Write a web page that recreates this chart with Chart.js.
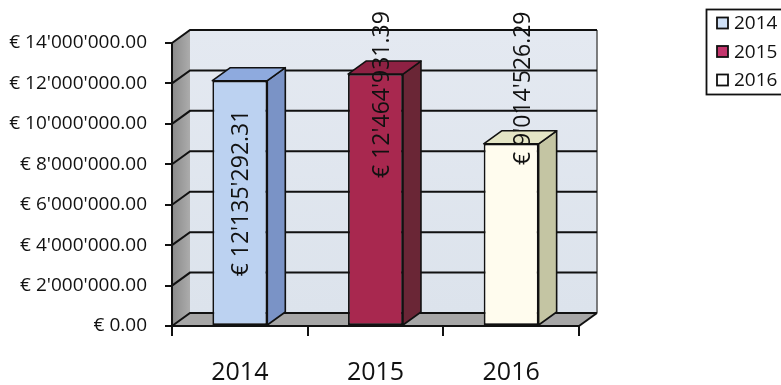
<!DOCTYPE html>
<html>
<head>
<meta charset="utf-8">
<script src="https://cdn.jsdelivr.net/npm/chart.js@4.4.1/dist/chart.umd.min.js"></script>
<style>
  html, body { margin: 0; padding: 0; background: #fff; }
  canvas { display: block; }
</style>
</head>
<body>
<canvas id="chart" width="781" height="385"></canvas>
<script>
const years = ['2014', '2015', '2016'];
const totals = [12135292.31, 12464931.39, 9014526.29];
const yMin = 0;
const yMax = 14000000;
const yStep = 2000000;

const frontColors = ['#bcd2f1', '#a8284f', '#fffcee'];
const topColors = ['#8eaade', '#8e2143', '#e4e5c5'];
const sideColors = ['#7a93c6', '#6a2636', '#c4c5a3'];
const legendColors = ['#cfe0f6', '#c2356c', '#ffffff'];

const FONT = '"Open Sans", "DejaVu Sans", sans-serif';
const INK = '#111111';

// 1234567.8 -> € 1'234'567.80
function money(v) {
  const parts = Number(v).toFixed(2).split('.');
  return '€ ' + parts[0].replace(/\B(?=(\d{3})+(?!\d))/g, "'") + '.' + parts[1];
}

function poly(ctx, pts, fill, stroke) {
  ctx.beginPath();
  pts.forEach(([px, py], i) => (i ? ctx.lineTo(px, py) : ctx.moveTo(px, py)));
  ctx.closePath();
  if (fill) { ctx.fillStyle = fill; ctx.fill(); }
  if (stroke) { ctx.strokeStyle = stroke; ctx.stroke(); }
}

// fake 3d: walls + floor behind the bars, side/top faces on the bars
const box3d = {
  id: 'box3d',
  beforeDraw(chart, args, opts) {
    const { ctx, chartArea } = chart;
    const { left, right, top, bottom } = chartArea;
    const dx = opts.dx, dy = opts.dy;
    const yScale = chart.scales.y;
    ctx.save();

    // back wall
    const wall = ctx.createLinearGradient(0, top - dy, 0, bottom - dy);
    wall.addColorStop(0, '#e4e9f1');
    wall.addColorStop(1, '#dce3ec');
    ctx.fillStyle = wall;
    ctx.fillRect(left + dx, top - dy, right - left, bottom - top);

    // left side wall
    const side = ctx.createLinearGradient(left, 0, left + dx, 0);
    side.addColorStop(0, '#8a8a8a');
    side.addColorStop(1, '#acacac');
    poly(ctx, [[left, top], [left + dx, top - dy], [left + dx, bottom - dy], [left, bottom]], side);

    // floor
    poly(ctx, [[left, bottom], [left + dx, bottom - dy], [right + dx, bottom - dy], [right, bottom]], '#a6a6a6');

    // back wall right edge
    ctx.lineWidth = 1.5;
    ctx.strokeStyle = '#555';
    ctx.beginPath();
    ctx.moveTo(right + dx, top - dy);
    ctx.lineTo(right + dx, bottom - dy);
    ctx.stroke();

    // grid lines bent over the side wall
    ctx.strokeStyle = INK;
    ctx.lineWidth = 2;
    yScale.ticks.forEach(t => {
      const py = yScale.getPixelForValue(t.value);
      ctx.beginPath();
      ctx.moveTo(left, py);
      ctx.lineTo(left + dx, py - dy);
      ctx.lineTo(right + dx, py - dy);
      ctx.stroke();
    });

    // floor front-right edge
    ctx.beginPath();
    ctx.moveTo(right, bottom);
    ctx.lineTo(right + dx, bottom - dy);
    ctx.stroke();
    ctx.restore();
  },
  afterDatasetsDraw(chart, args, opts) {
    const { ctx } = chart;
    const dx = opts.dx, dy = opts.dy;
    const meta = chart.getDatasetMeta(0);
    const yScale = chart.scales.y;
    ctx.save();
    ctx.lineWidth = 1.6;
    ctx.lineJoin = 'round';
    meta.data.forEach((bar, i) => {
      const { x, y, base, width } = bar.getProps(['x', 'y', 'base', 'width'], true);
      const l = x - width / 2, r = x + width / 2;
      poly(ctx, [[r, y], [r + dx, y - dy], [r + dx, base - dy], [r, base]], sideColors[i], INK);
      poly(ctx, [[l, y], [l + dx, y - dy], [r + dx, y - dy], [r, y]], topColors[i], INK);
    });

    // value labels, rotated
    ctx.font = '23px ' + FONT;
    ctx.fillStyle = INK;
    ctx.textAlign = 'center';
    ctx.textBaseline = 'middle';
    meta.data.forEach((bar, i) => {
      const a = opts.labels[i];
      ctx.save();
      ctx.translate(bar.x + a.shift, yScale.getPixelForValue(a.at));
      ctx.rotate(-Math.PI / 2);
      ctx.fillText(money(totals[i]), 0, 1);
      ctx.restore();
    });
    ctx.restore();
  },
  afterDraw(chart, args, opts) {
    // boxed legend, top right, running off the edge
    const { ctx } = chart;
    const lg = opts.legend;
    ctx.save();
    ctx.lineWidth = 1.8;
    ctx.strokeStyle = INK;
    ctx.strokeRect(lg.x + 0.5, lg.y + 0.5, 120, lg.h);
    ctx.font = '19px ' + FONT;
    ctx.textBaseline = 'middle';
    ctx.textAlign = 'left';
    years.forEach((yr, i) => {
      const cy = lg.y + lg.first + i * lg.row;
      ctx.lineWidth = 1.8;
      ctx.fillStyle = legendColors[i];
      ctx.fillRect(lg.x + 11, cy - 5.5, 11, 11);
      ctx.strokeRect(lg.x + 11, cy - 5.5, 11, 11);
      ctx.fillStyle = INK;
      ctx.fillText(yr, lg.x + 28, cy + 1);
    });
    ctx.restore();
  }
};

new Chart(document.getElementById('chart'), {
  type: 'bar',
  data: {
    labels: years,
    datasets: [{
      data: totals,
      backgroundColor: frontColors,
      borderColor: INK,
      borderWidth: 1.8,
      borderSkipped: false,
      barPercentage: 0.405,
      categoryPercentage: 1
    }]
  },
  options: {
    responsive: false,
    devicePixelRatio: 1,
    animation: false,
    layout: { padding: { top: 43, right: 202, bottom: 0, left: 0 } },
    plugins: {
      legend: { display: false },
      tooltip: { enabled: false },
      box3d: {
        dx: 18,
        dy: 13,
        labels: [
          { at: 6580000, shift: 1 },
          { at: 11450000, shift: 6 },
          { at: 11760000, shift: 11 }
        ],
        legend: { x: 706, y: 9, h: 85, first: 14, row: 28.5 }
      }
    },
    scales: {
      x: {
        grid: { offset: true, drawOnChartArea: false, tickLength: 10, color: INK, lineWidth: 2 },
        border: { color: INK, width: 2 },
        ticks: { color: INK, font: { family: FONT, size: 25 }, padding: 22 },
        afterFit: s => { s.height = 59; }
      },
      y: {
        min: yMin,
        max: yMax,
        grid: { drawOnChartArea: false, tickLength: 7, color: INK, lineWidth: 2 },
        border: { color: INK, width: 2 },
        ticks: {
          stepSize: yStep,
          color: INK,
          font: { family: FONT, size: 19 },
          padding: 18,
          callback: v => money(v)
        },
        afterFit: s => { s.width = 172; }
      }
    }
  },
  plugins: [box3d]
});
</script>
</body>
</html>
